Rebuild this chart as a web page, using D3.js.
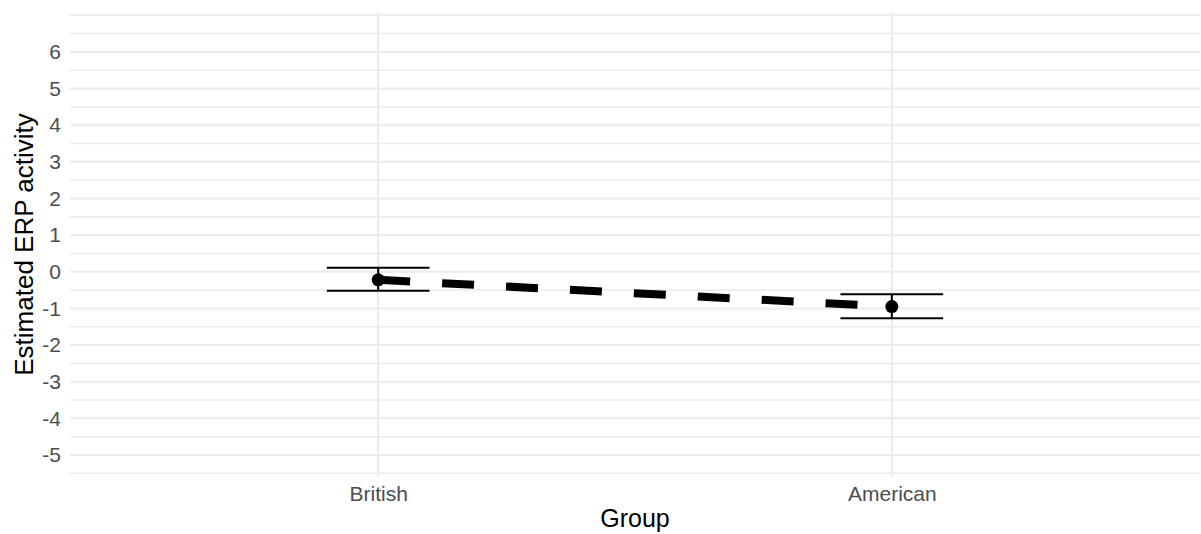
<!DOCTYPE html>
<html>
<head>
<meta charset="utf-8">
<script src="https://cdn.jsdelivr.net/npm/d3@7"></script>
<style>
  html, body { margin: 0; padding: 0; background: #fff; }
  svg { display: block; font-family: "Liberation Sans", Arial, sans-serif; }
</style>
</head>
<body>
<svg id="chart" width="1201" height="534"></svg>
<script>
// Estimated ERP activity per group, with confidence limits
const groups = ["British", "American"];
const estimates = [-0.22, -0.95];
const lowerCI = [-0.52, -1.27];
const upperCI = [0.11, -0.61];
const yTicks = [-5, -4, -3, -2, -1, 0, 1, 2, 3, 4, 5, 6];
const yMinor = [-5.5, -4.5, -3.5, -2.5, -1.5, -0.5, 0.5, 1.5, 2.5, 3.5, 4.5, 5.5, 6.5, 7];

const svg = d3.select("#chart");
const panel = { left: 70, right: 1200, top: 12, bottom: 477 };

const x = d3.scalePoint()
  .domain(groups)
  .range([panel.left, panel.right])
  .padding(0.6);

const y = d3.scaleLinear()
  .domain([-5.60, 7.09])
  .range([panel.bottom, panel.top]);

const grid = svg.append("g");
grid.selectAll("line.minor").data(yMinor).join("line")
  .attr("class", "minor")
  .attr("x1", panel.left).attr("x2", panel.right)
  .attr("y1", d => y(d)).attr("y2", d => y(d))
  .attr("stroke", "#ebebeb").attr("stroke-width", 1.5);
grid.selectAll("line.major").data(yTicks).join("line")
  .attr("class", "major")
  .attr("x1", panel.left).attr("x2", panel.right)
  .attr("y1", d => y(d)).attr("y2", d => y(d))
  .attr("stroke", "#ebebeb").attr("stroke-width", 2);
grid.selectAll("line.vmajor").data(groups).join("line")
  .attr("class", "vmajor")
  .attr("x1", d => x(d)).attr("x2", d => x(d))
  .attr("y1", panel.top).attr("y2", panel.bottom)
  .attr("stroke", "#ebebeb").attr("stroke-width", 2);

// Axes (text only, no domain lines or ticks)
const yAxis = svg.append("g")
  .attr("transform", `translate(${panel.left},0)`)
  .call(d3.axisLeft(y).tickValues(yTicks).tickSize(0).tickPadding(9).tickFormat(d => String(d)));
yAxis.select(".domain").remove();
yAxis.selectAll("text").attr("fill", "#4d4d4d").style("font-size", "21px")
  .attr("font-family", "Liberation Sans, Arial, sans-serif");

const xAxis = svg.append("g")
  .attr("transform", `translate(0,${panel.bottom})`)
  .call(d3.axisBottom(x).tickSize(0).tickPadding(9));
xAxis.select(".domain").remove();
xAxis.selectAll("text").attr("fill", "#4d4d4d").style("font-size", "21px")
  .attr("font-family", "Liberation Sans, Arial, sans-serif");

// Axis titles
svg.append("text")
  .attr("x", (panel.left + panel.right) / 2)
  .attr("y", 527)
  .attr("text-anchor", "middle")
  .attr("fill", "#000")
  .style("font-size", "25px")
  .text("Group");

svg.append("text")
  .attr("transform", `translate(33,${(panel.top + panel.bottom) / 2}) rotate(-90)`)
  .attr("text-anchor", "middle")
  .attr("fill", "#000")
  .style("font-size", "26px")
  .text("Estimated ERP activity");

// Error bars
const rows = groups.map((g, i) => ({ g, est: estimates[i], lo: lowerCI[i], hi: upperCI[i] }));
const halfW = (x.step()) * 0.1;
const eb = svg.append("g").attr("stroke", "#000").attr("stroke-width", 2);
eb.selectAll("line.v").data(rows).join("line")
  .attr("x1", d => x(d.g)).attr("x2", d => x(d.g))
  .attr("y1", d => y(d.lo)).attr("y2", d => y(d.hi));
eb.selectAll("line.t").data(rows).join("line")
  .attr("x1", d => x(d.g) - halfW).attr("x2", d => x(d.g) + halfW)
  .attr("y1", d => y(d.hi)).attr("y2", d => y(d.hi));
eb.selectAll("line.b").data(rows).join("line")
  .attr("x1", d => x(d.g) - halfW).attr("x2", d => x(d.g) + halfW)
  .attr("y1", d => y(d.lo)).attr("y2", d => y(d.lo));

// Dashed connecting line
const line = d3.line().x(d => x(d.g)).y(d => y(d.est));
svg.append("path")
  .datum(rows)
  .attr("d", line)
  .attr("fill", "none")
  .attr("stroke", "#000")
  .attr("stroke-width", 8)
  .attr("stroke-dasharray", "32,32")
  .attr("stroke-linecap", "butt");

// Points
svg.append("g").selectAll("circle").data(rows).join("circle")
  .attr("cx", d => x(d.g))
  .attr("cy", d => y(d.est))
  .attr("r", 6.5)
  .attr("fill", "#000");
</script>
</body>
</html>
